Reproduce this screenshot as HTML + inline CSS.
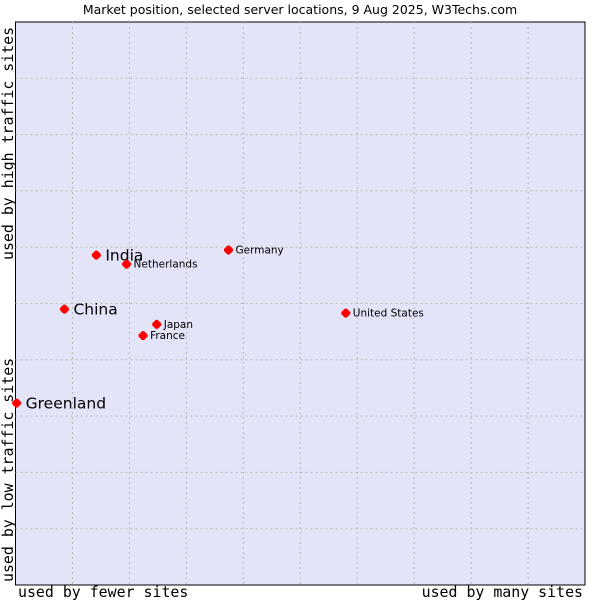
<!DOCTYPE html>
<html><head><meta charset="utf-8"><style>
body{margin:0;background:#fff;width:600px;height:600px;overflow:hidden}
svg text{font-family:"DejaVu Sans","Liberation Sans",sans-serif}
.mono{font-family:"DejaVu Sans Mono","Liberation Mono",monospace}
</style></head><body>
<svg id="c" width="600" height="600">
<text x="300" y="14" font-size="12.5" text-anchor="middle" fill="#000">Market position, selected server locations, 9 Aug 2025, W3Techs.com</text>
<rect x="15.5" y="22" width="569.5" height="563" fill="#e3e4f7" stroke="#000" stroke-width="1"/>
<g id="grid"></g>
<g id="pts"></g>
<text class="mono" x="18" y="597" font-size="14.9">used by fewer sites</text>
<text class="mono" x="583" y="597" font-size="14.9" text-anchor="end">used by many sites</text>
<text class="mono" transform="translate(13,260) rotate(-90)" font-size="14.9">used by high traffic sites</text>
<text class="mono" transform="translate(13,582) rotate(-90)" font-size="14.9">used by low traffic sites</text>
</svg>
<script>
const names=["Greenland","China","India","Netherlands","Germany","United States","Japan","France"];
const xVals=[0.2,8.6,14.2,19.5,37.4,58.0,24.8,22.4];
const yVals=[32.3,49.0,58.6,57.0,59.5,48.3,46.3,44.3];
const big=[true,true,true,false,false,false,false,false];
const X0=15.5,X1=585,Y0=585,Y1=22;
const sx=v=>X0+(X1-X0)*v/100, sy=v=>Y0-(Y0-Y1)*v/100;
const ns="http://www.w3.org/2000/svg";
const g=document.getElementById('grid');
for(let i=1;i<10;i++){
 let l=document.createElementNS(ns,'line');
 l.setAttribute('x1',sx(i*10));l.setAttribute('x2',sx(i*10));l.setAttribute('y1',Y1);l.setAttribute('y2',Y0);
 l.setAttribute('stroke','#bbbbbb');l.setAttribute('stroke-dasharray','2,3');
 
 
 g.appendChild(l);
 let h=document.createElementNS(ns,'line');
 h.setAttribute('y1',sy(i*10));h.setAttribute('y2',sy(i*10));h.setAttribute('x1',X0);h.setAttribute('x2',X1);
 h.setAttribute('stroke','#bbbbbb');h.setAttribute('stroke-dasharray','2,3');
 
 
 g.appendChild(h);
}
const p=document.getElementById('pts');
names.forEach((n,i)=>{
 const x=sx(xVals[i]),y=sy(yVals[i]);
 const c=document.createElementNS(ns,'path');
 c.setAttribute('d',`M${x-4.5},${y-1} L${x-1},${y-4.5} L${x+1},${y-4.5} L${x+4.5},${y-1} L${x+4.5},${y+1} L${x+1},${y+4.5} L${x-1},${y+4.5} L${x-4.5},${y+1}Z`);
 c.setAttribute('fill','#f00');
 
 
 p.appendChild(c);
 const t=document.createElementNS(ns,'text');
 t.setAttribute('x',x+(big[i]?9:7));t.setAttribute('y',y+(big[i]?5.5:3.5));
 t.setAttribute('font-size',big[i]?'15.5':'10.5');
 t.textContent=n;
 
 
 p.appendChild(t);
});
</script>
</body></html>
